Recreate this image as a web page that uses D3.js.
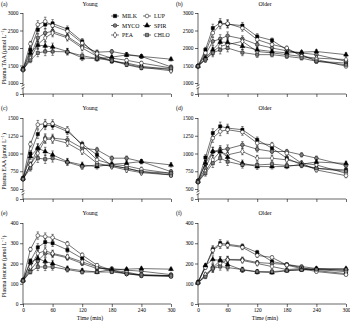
<!DOCTYPE html>
<html>
<head>
<meta charset="utf-8">
<script src="https://cdn.jsdelivr.net/npm/d3@7"></script>
<style>
  body { margin: 0; background: #fff; }
  svg { display: block; font-family: "Liberation Serif", "DejaVu Serif", serif; }
</style>
</head>
<body>
<div id="chart"></div>
<script>
const times = [0, 15, 30, 45, 60, 90, 120, 150, 180, 210, 240, 300];
const groups = ['MILK', 'MYCO', 'PEA', 'LUP', 'SPIR', 'CHLO'];

// rows follow the order of groups
const taaYoung = [
    [1400, 1950, 2520, 2670, 2700, 2540, 2190, 1760, 1620, 1570, 1480, 1380],
    [1380, 1760, 2290, 2430, 2480, 2330, 2050, 1880, 1900, 1820, 1760, 1460],
    [1380, 1700, 2100, 2290, 2430, 2290, 2000, 1760, 1650, 1540, 1450, 1350],
    [1400, 2120, 2670, 2760, 2640, 2480, 2140, 1840, 1710, 1650, 1570, 1430],
    [1400, 1860, 2080, 2060, 2030, 1900, 1720, 1690, 1740, 1800, 1760, 1680],
    [1380, 1650, 1860, 1900, 1900, 1890, 1780, 1700, 1640, 1520, 1430, 1420]
];
const taaOlder = [
    [1480, 1950, 2570, 2720, 2680, 2640, 2330, 2220, 1950, 1810, 1620, 1570],
    [1480, 1810, 2190, 2260, 2350, 2260, 2100, 2000, 1920, 1860, 1810, 1620],
    [1480, 1670, 1900, 2050, 2100, 2190, 1900, 1860, 1810, 1760, 1710, 1670],
    [1480, 1860, 2430, 2670, 2700, 2570, 2240, 2100, 2000, 1760, 1670, 1480],
    [1480, 1710, 1950, 2170, 2160, 2050, 1950, 1900, 1860, 1880, 1900, 1810],
    [1480, 1670, 1860, 1950, 2000, 1870, 1810, 1810, 1760, 1710, 1620, 1520]
];
const eaaYoung = [
    [650, 1000, 1273, 1396, 1396, 1311, 1132, 981, 830, 792, 745, 698],
    [640, 839, 1075, 1217, 1217, 1193, 1075, 1052, 934, 934, 886, 745],
    [640, 839, 1004, 1200, 1198, 1146, 1028, 863, 816, 768, 730, 698],
    [650, 1132, 1406, 1420, 1420, 1335, 1113, 910, 849, 825, 778, 721],
    [650, 957, 1075, 1028, 981, 886, 839, 816, 849, 863, 886, 839],
    [640, 792, 934, 920, 934, 877, 816, 839, 830, 792, 745, 721]
];
const eaaOlder = [
    [613, 943, 1288, 1382, 1358, 1335, 1193, 1075, 934, 839, 792, 768],
    [600, 792, 1028, 1052, 1066, 1122, 1061, 1028, 1028, 981, 934, 830],
    [600, 745, 910, 1028, 981, 1028, 934, 934, 910, 863, 839, 721],
    [613, 863, 1217, 1311, 1335, 1302, 1146, 1122, 1004, 863, 768, 688],
    [610, 863, 1028, 1028, 950, 863, 816, 816, 816, 850, 880, 860],
    [600, 721, 863, 934, 886, 839, 839, 850, 830, 830, 790, 750]
];
const leuYoung = [
    [117, 213, 280, 305, 300, 267, 225, 183, 162, 150, 140, 137],
    [115, 167, 213, 250, 245, 228, 200, 175, 175, 167, 162, 145],
    [115, 183, 250, 263, 250, 233, 208, 183, 167, 150, 142, 140],
    [117, 270, 338, 333, 328, 297, 242, 192, 167, 158, 142, 137],
    [117, 205, 225, 210, 200, 175, 165, 158, 170, 172, 175, 172],
    [115, 158, 183, 183, 183, 170, 158, 158, 158, 150, 145, 140]
];
const leuOlder = [
    [107, 185, 270, 300, 295, 285, 255, 210, 195, 180, 165, 150],
    [105, 140, 180, 215, 220, 220, 205, 200, 195, 185, 175, 165],
    [105, 145, 175, 200, 218, 215, 200, 185, 170, 175, 170, 160],
    [107, 180, 265, 292, 290, 280, 240, 230, 192, 175, 160, 145],
    [107, 190, 220, 215, 195, 168, 158, 155, 165, 170, 175, 175],
    [105, 135, 175, 185, 180, 170, 160, 160, 165, 168, 170, 170]
];
// SEM per time point, shared by all groups of a panel
const taaSem = [40, 70, 110, 120, 110, 90, 80, 65, 55, 50, 50, 50];
const eaaSem = [20, 40, 60, 60, 55, 45, 40, 35, 30, 30, 30, 30];
const leuSem = [5, 10, 18, 18, 16, 12, 10, 8, 7, 7, 7, 7];

const xTicks = [0, 60, 120, 180, 240, 300];
const taaTicks = [0, 1000, 1500, 2000, 2500, 3000];
const eaaTicks = [0, 500, 750, 1000, 1250, 1500];
const leuTicks = [0, 100, 200, 300, 400];

const styles = {
    MILK: { shape: d3.symbolSquare, fill: '#000' },
    MYCO: { shape: d3.symbolCircle, fill: '#808080' },
    PEA: { shape: d3.symbolDiamond, fill: '#fff' },
    LUP: { shape: d3.symbolCircle, fill: '#fff' },
    SPIR: { shape: d3.symbolTriangle, fill: '#000' },
    CHLO: { shape: d3.symbolSquare, fill: '#808080' }
};

const svg = d3.select('#chart').append('svg')
    .attr('width', 350)
    .attr('height', 321);

const panels = [
    { data: taaYoung, sem: taaSem, left: 23, label: '(a)', title: 'Young', head: 6,
      yDom: [0, 1000, 3000], yRng: [94, 83, 13], ticks: taaTicks, yName: 'Plasma TAA', brk: true },
    { data: taaOlder, sem: taaSem, left: 198, label: '(b)', title: 'Older', head: 6,
      yDom: [0, 1000, 3000], yRng: [94, 83, 13], ticks: taaTicks, brk: true },
    { data: eaaYoung, sem: eaaSem, left: 23, label: '(c)', title: 'Young', head: 110,
      yDom: [0, 500, 1500], yRng: [199, 189, 118], ticks: eaaTicks, yName: 'Plasma EAA', brk: true },
    { data: eaaOlder, sem: eaaSem, left: 198, label: '(d)', title: 'Older', head: 110,
      yDom: [0, 500, 1500], yRng: [199, 189, 118], ticks: eaaTicks, brk: true },
    { data: leuYoung, sem: leuSem, left: 23, label: '(e)', title: 'Young', head: 215,
      yDom: [0, 400], yRng: [304, 223], ticks: leuTicks, yName: 'Plasma leucine', xLab: true },
    { data: leuOlder, sem: leuSem, left: 198, label: '(f)', title: 'Older', head: 215,
      yDom: [0, 400], yRng: [304, 223], ticks: leuTicks, xLab: true }
];

panels.forEach(p => {
    const g = svg.append('g');
    const x = d3.scaleLinear().domain([0, 300]).range([p.left, p.left + 148]);
    const y = d3.scaleLinear().domain(p.yDom).range(p.yRng);
    const base = p.yRng[0];

    g.append('text').attr('x', p.left - 22).attr('y', p.head)
        .attr('font-size', 5.8).text(p.label);
    g.append('text').attr('x', p.left + 67).attr('y', p.head)
        .attr('font-size', 5.8).attr('text-anchor', 'middle').text(p.title);

    // y axis
    const ya = g.append('g').attr('transform', `translate(${p.left},0)`)
        .call(d3.axisLeft(y).tickValues(p.ticks).tickSize(3).tickPadding(1.5).tickFormat(d3.format('d')));
    ya.select('.domain').remove();
    ya.selectAll('line').attr('stroke-width', 0.6);
    ya.selectAll('text').attr('font-size', 5.4).attr('font-family', 'Liberation Serif');
    if (p.brk) {
        const yb = y(p.yDom[1]);
        g.append('line').attr('x1', p.left).attr('x2', p.left)
            .attr('y1', p.yRng[2]).attr('y2', yb + 2.5).attr('stroke', '#000').attr('stroke-width', 0.6);
        g.append('line').attr('x1', p.left).attr('x2', p.left)
            .attr('y1', yb + 5).attr('y2', base).attr('stroke', '#000').attr('stroke-width', 0.6);
        [2.5, 5].forEach(o => g.append('line')
            .attr('x1', p.left - 1.5).attr('x2', p.left + 1.5)
            .attr('y1', yb + o + 0.8).attr('y2', yb + o - 0.8)
            .attr('stroke', '#000').attr('stroke-width', 0.6));
    } else {
        g.append('line').attr('x1', p.left).attr('x2', p.left)
            .attr('y1', p.yRng[1]).attr('y2', base).attr('stroke', '#000').attr('stroke-width', 0.6);
    }

    // x axis
    const xa = g.append('g').attr('transform', `translate(0,${base})`)
        .call(d3.axisBottom(x).tickValues(xTicks).tickSize(3).tickPadding(1)
            .tickFormat(p.xLab ? d3.format('d') : () => ''));
    xa.select('.domain').attr('stroke-width', 0.6).attr('d', `M${p.left},0H${p.left + 148}`);
    xa.selectAll('line').attr('stroke-width', 0.6);
    xa.selectAll('text').attr('font-size', 5.4).attr('font-family', 'Liberation Serif');
    if (p.xLab) {
        g.append('text').attr('x', p.left + 67).attr('y', 320)
            .attr('font-size', 5.8).attr('text-anchor', 'middle').text('Time (min)');
    }

    if (p.yName) {
        const mid = (p.yRng[p.yRng.length - 1] + base) / 2 + 3;
        const t = g.append('text').attr('transform', `translate(6,${mid}) rotate(-90)`)
            .attr('font-size', 5.8).attr('text-anchor', 'middle');
        t.append('tspan').text(p.yName + ' (μmol L');
        t.append('tspan').attr('font-size', 4.2).attr('dy', -2).text('−1');
        t.append('tspan').attr('dy', 2).text(')');
    }

    const line = d3.line().x((d, i) => x(times[i])).y(d => y(d));
    p.data.forEach(s => {
        g.append('path').attr('d', line(s)).attr('fill', 'none')
            .attr('stroke', '#000').attr('stroke-width', 0.55);
    });
    p.data.forEach(s => {
        s.forEach((v, i) => {
            const cx = x(times[i]);
            const e = p.sem[i];
            g.append('line').attr('x1', cx).attr('x2', cx)
                .attr('y1', y(v - e)).attr('y2', y(v + e))
                .attr('stroke', '#000').attr('stroke-width', 0.45);
            [v - e, v + e].forEach(w => g.append('line')
                .attr('x1', cx - 1.3).attr('x2', cx + 1.3).attr('y1', y(w)).attr('y2', y(w))
                .attr('stroke', '#000').attr('stroke-width', 0.45));
        });
    });
    p.data.forEach((s, k) => {
        const st = styles[groups[k]];
        g.selectAll(null).data(s).enter().append('path')
            .attr('d', d3.symbol().type(st.shape).size(st.shape === d3.symbolCircle ? 11 : 10))
            .attr('transform', (d, i) => `translate(${x(times[i])},${y(d)})`)
            .attr('fill', st.fill).attr('stroke', '#000').attr('stroke-width', 0.5);
    });
});

// legend in panel (a)
const legend = svg.append('g');
groups.forEach((name, i) => {
    const lx = i < 3 ? 115 : 147;
    const ly = 16 + (i % 3) * 9.5;
    const st = styles[name];
    legend.append('line').attr('x1', lx - 4).attr('x2', lx + 4).attr('y1', ly).attr('y2', ly)
        .attr('stroke', '#000').attr('stroke-width', 0.55);
    legend.append('path').attr('d', d3.symbol().type(st.shape).size(11))
        .attr('transform', `translate(${lx},${ly})`)
        .attr('fill', st.fill).attr('stroke', '#000').attr('stroke-width', 0.5);
    legend.append('text').attr('x', lx + 7).attr('y', ly + 2)
        .attr('font-size', 5.8).text(name);
});
</script>
</body>
</html>
